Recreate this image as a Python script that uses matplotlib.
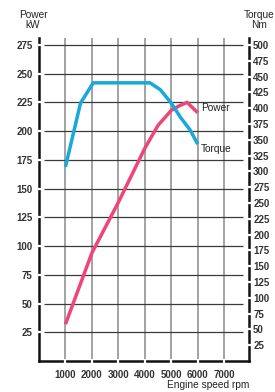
import numpy as np
import matplotlib
matplotlib.use("Agg")
import matplotlib.pyplot as plt

plt.rcParams['font.family'] = ['Liberation Sans', 'DejaVu Sans']

# engine speed (rpm) and curves
power_rpm = [1000, 2000, 3000, 4000, 4500, 5000, 5300, 5600, 6000]
power_kw = [32, 94, 138, 185, 205, 218, 222, 225, 216]

torque_rpm = [1000, 1570, 2050, 4200, 4590, 5000, 5340, 5720, 6000]
torque_nm = [307, 408, 440, 440, 429, 408, 386, 365, 343]

x_ticks = [1000, 2000, 3000, 4000, 5000, 6000, 7000]
power_ticks = list(range(25, 276, 25))
torque_ticks = list(range(25, 501, 25))

power_col = "#ef4677"
torque_col = "#19a8da"

fig = plt.figure(figsize=(2.75, 3.92), dpi=100)
ax = fig.add_axes([39 / 275, 31 / 392, 210 / 275, 323 / 392])
ax2 = ax.twinx()

ymax = 281
ax.set_xlim(0, 7940)
ax.set_ylim(0, ymax)
ax2.set_ylim(0, ymax * 500 / 275)

# grid
ax.vlines(x_ticks, 0, ymax, color="#8a8a8a", lw=1.1, zorder=1)
ax.hlines(power_ticks, 200, 7720, color="#3a3a3a", lw=0.9, zorder=1)

# curves
ax.plot(power_rpm, power_kw, color=power_col, lw=2.5, solid_capstyle="butt", zorder=3)
ax2.plot(torque_rpm, torque_nm, color=torque_col, lw=2.5, solid_capstyle="butt", zorder=3)

ax.text(power_rpm[-1] + 130, power_kw[-1] + 4, "Power", fontsize=7.3, color="#222",
        va="center", ha="left")
ax2.text(torque_rpm[-1] + 130, torque_nm[-1] - 7, "Torque", fontsize=7.3, color="#222",
         va="center", ha="left")

# spines
for a in (ax, ax2):
    a.spines["top"].set_visible(False)
    for s in a.spines.values():
        s.set_linewidth(1.8)
        s.set_color("#111")
        s.set_zorder(2)
    a.set_axisbelow(False)
ax.spines["right"].set_visible(False)
ax2.spines["left"].set_visible(False)
ax2.spines["bottom"].set_visible(False)

tick_kw = dict(direction="inout", length=3, width=1.6, color="white",
               labelsize=7, labelcolor="#333")
ax.set_xticks(x_ticks)
ax.set_xticklabels([str(v) for v in x_ticks], fontweight="bold")
ax.tick_params(axis="x", pad=5, **tick_kw)
ax.set_yticks(power_ticks)
ax.set_yticklabels([str(v) for v in power_ticks], fontweight="bold")
ax.tick_params(axis="y", pad=3, **tick_kw)
ax2.set_yticks(torque_ticks)
ax2.set_yticklabels([str(v) for v in torque_ticks], fontweight="bold")
ax2.tick_params(axis="y", pad=1.5, **tick_kw)

fig.text(33 / 275, 1 - 10 / 392, "Power\nkW", ha="center", va="top", fontsize=7.3,
         color="#222", linespacing=1.05)
fig.text(259 / 275, 1 - 10 / 392, "Torque\nNm", ha="center", va="top", fontsize=7.3,
         color="#222", linespacing=1.05)
fig.text(249 / 275, 1 - 385 / 392, "Engine speed rpm", ha="right", va="center",
         fontsize=7.3, color="#222")

fig.savefig("out.png", dpi=100)
